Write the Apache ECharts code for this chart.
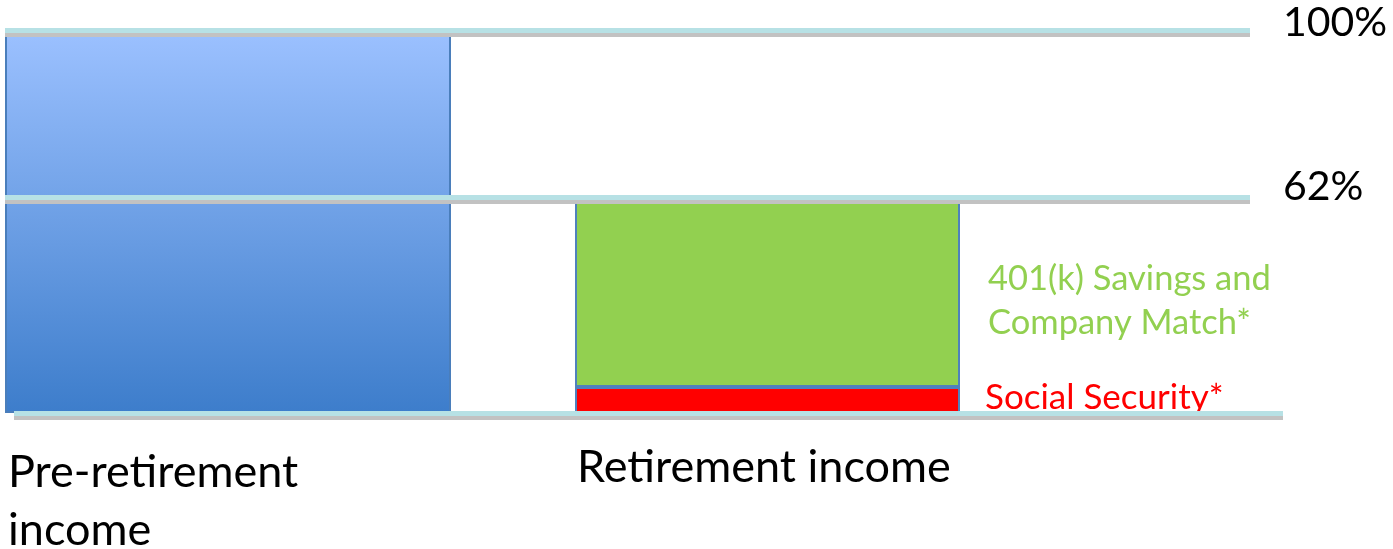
<!DOCTYPE html>
<html><head><meta charset="utf-8">
<script src="https://cdn.jsdelivr.net/npm/echarts@6/dist/echarts.min.js"></script>
<style>html,body{margin:0;padding:0;background:#fff}#c{width:1393px;height:549px}</style>
</head><body><div id="c"></div>
<script>
// ---- data ----
const categories = ['Pre-retirement\nincome', 'Retirement income'];
const preRetirement = [100];
const socialSecurity = [6.8];
const savings401k = [49.3];
const seriesNames = ['Pre-retirement income', 'Social Security*', '401(k) Savings and\nCompany Match*'];
const refLineValues = [100, 56.3];
const refLineLabels = ['100%', '62%'];
const baseLineValue = [0];

// ---- styles / layout ----
const FONT = 'Lato, "Open Sans", sans-serif';
const TOP = 30, BOTTOM = 136;
const lineStyle = { color: '#B7E1E5', width: 5, type: 'solid', shadowColor: '#C2C2C2', shadowBlur: 0, shadowOffsetY: 4 };

function valueAxis(i) {
  return { type: 'value', gridIndex: i, min: 0, max: 100, show: false };
}
function catAxis(i, cat, gap, padTop) {
  return {
    type: 'category', gridIndex: i, data: [cat],
    axisLine: { show: false }, axisTick: { show: false }, axisLabel: { show: false }, splitLine: { show: false },
    name: cat, nameLocation: 'start', nameGap: gap,
    nameTextStyle: { fontFamily: FONT, fontSize: 45, color: '#000', align: 'left', verticalAlign: 'top', lineHeight: 58, padding: [padTop, 0, 0, 0] }
  };
}
function grid(o) { return Object.assign({ top: TOP, bottom: BOTTOM, outerBoundsMode: 'none', containLabel: false }, o); }

const option = {
  animation: false,
  backgroundColor: '#fff',
  grid: [
    grid({ left: 5, width: 446 }),
    grid({ left: 575, width: 385 }),
    grid({ left: 5, right: 143 }),
    grid({ left: 14, right: 110 })
  ],
  xAxis: [
    catAxis(0, categories[0], -3, 30),
    catAxis(1, categories[1], -2, 25),
    { type: 'category', gridIndex: 2, data: ['a'], show: false },
    { type: 'category', gridIndex: 3, data: ['a'], show: false }
  ],
  yAxis: [valueAxis(0), valueAxis(1), valueAxis(2), valueAxis(3)],
  series: [
    {
      name: seriesNames[0], type: 'bar', xAxisIndex: 0, yAxisIndex: 0,
      data: preRetirement, barWidth: '100%', z: 2,
      itemStyle: {
        color: { type: 'linear', x: 0, y: 0, x2: 0, y2: 1, colorStops: [{ offset: 0, color: '#9CC1FF' }, { offset: 1, color: '#3D7DCB' }] },
        borderColor: '#4A7EBB', borderWidth: 2
      }
    },
    {
      name: seriesNames[1], type: 'bar', stack: 'ret', xAxisIndex: 1, yAxisIndex: 1,
      data: socialSecurity, barWidth: '100%', z: 2,
      itemStyle: { color: '#FF0000', borderColor: '#4F81BD', borderWidth: 2 },
      label: { show: true, position: 'right', distance: 25, offset: [0, -2], formatter: seriesNames[1], color: '#FF0000', fontFamily: FONT, fontSize: 35 }
    },
    {
      name: seriesNames[2], type: 'bar', stack: 'ret', xAxisIndex: 1, yAxisIndex: 1,
      data: savings401k, barWidth: '100%', z: 2,
      itemStyle: { color: '#92D050', borderColor: '#4F81BD', borderWidth: 2 },
      label: { show: true, position: 'right', distance: 28, offset: [0, 8], formatter: seriesNames[2], color: '#92D050', fontFamily: FONT, fontSize: 34.5, lineHeight: 44, align: 'left' }
    },
    {
      type: 'line', xAxisIndex: 2, yAxisIndex: 2, data: [], symbol: 'none', z: 5,
      markLine: {
        silent: true, symbol: 'none', z: 5,
        lineStyle: lineStyle,
        label: { show: true, position: 'end', distance: 33, color: '#000', fontFamily: FONT, fontSize: 41, verticalAlign: 'bottom' },
        data: refLineValues.map((v, i) => ({
          yAxis: v,
          label: { formatter: refLineLabels[i], lineHeight: i === 0 ? 15 : 21 }
        }))
      }
    },
    {
      type: 'line', xAxisIndex: 3, yAxisIndex: 3, data: [], symbol: 'none', z: 5,
      markLine: {
        silent: true, symbol: 'none', z: 5,
        lineStyle: lineStyle,
        label: { show: false },
        data: baseLineValue.map(v => ({ yAxis: v }))
      }
    }
  ]
};

const chart = echarts.init(document.getElementById('c'), null, { renderer: 'canvas' });
chart.setOption(option);
</script>
</body></html>
